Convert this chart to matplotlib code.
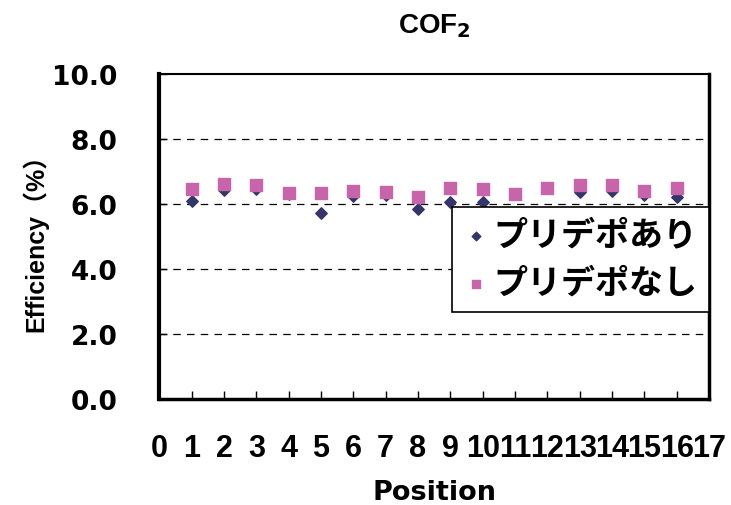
import matplotlib.pyplot as plt
import numpy as np

plt.rcParams['font.family'] = ['DejaVu Sans', 'Noto Sans CJK JP']
plt.rcParams['font.weight'] = 'bold'

# data (11 and 12 hidden behind the squares)
positions = np.arange(1, 17)
with_predepo = [6.10, 6.43, 6.46, 6.30, 5.72, 6.25, 6.28, 5.85,
                6.06, 6.06, np.nan, np.nan, 6.37, 6.40, 6.28, 6.22]
without_predepo = [6.46, 6.60, 6.58, 6.34, 6.34, 6.40, 6.37, 6.20,
                   6.50, 6.46, 6.30, 6.50, 6.58, 6.58, 6.40, 6.50]
labels = ['プリデポあり', 'プリデポなし']
xticks = np.arange(0, 18)
yticks = np.arange(0, 10.1, 2)

fig = plt.figure(figsize=(7.31, 5.06), dpi=100)
ax = fig.add_axes([0.218, 0.21, 0.752, 0.642])

ax.scatter(positions, with_predepo, marker='D', s=34, color='#35356B', label=labels[0], zorder=3)
ax.scatter(positions, without_predepo, marker='s', s=64, color='#C764AA', label=labels[1], zorder=4)

ax.set_xlim(0, 17)
ax.set_ylim(0, 10)
ax.set_xticks(xticks)
ax.set_yticks(yticks)
ax.set_yticklabels(['%.1f' % v for v in yticks], fontsize=19, fontweight='bold')
ax.set_xticklabels([str(v) for v in xticks], fontsize=22, fontweight='bold',
                   family=['Liberation Sans Narrow', 'Liberation Sans'])
ax.tick_params(axis='both', direction='in', length=6, width=1)
ax.tick_params(axis='x', pad=25)
ax.tick_params(axis='y', pad=30)

for v in yticks[1:-1]:
    ax.axhline(v, color='black', lw=0.9, ls=(0, (6, 5)), zorder=1)

for s in ax.spines.values():
    s.set_color('black')
    s.set_linewidth(1.5)
ax.spines['left'].set_linewidth(3)
ax.spines['bottom'].set_linewidth(2.5)
ax.spines['right'].set_linewidth(2.5)

ax.set_xlabel('Position', fontsize=19.5, fontweight='bold', labelpad=11)
ax.set_ylabel('Efficiency（%）', fontsize=18, fontweight='bold', labelpad=3,
              family=['Liberation Sans', 'Noto Sans CJK JP'])
ax.set_title('COF$_\\mathbf{2}$', fontsize=20, fontweight='bold', pad=30,
             family=['Liberation Sans'])

leg = ax.legend(loc='upper right', bbox_to_anchor=(1.0, 0.591), borderaxespad=0,
                prop={'size': 24.5, 'weight': 'bold'},
                frameon=True, fancybox=False, edgecolor='black', framealpha=1,
                handletextpad=0.15, borderpad=0.35, labelspacing=0.45, markerscale=0.75,
                handlelength=0.7)
leg.get_frame().set_linewidth(1.2)

fig.savefig('out.png', dpi=100)
